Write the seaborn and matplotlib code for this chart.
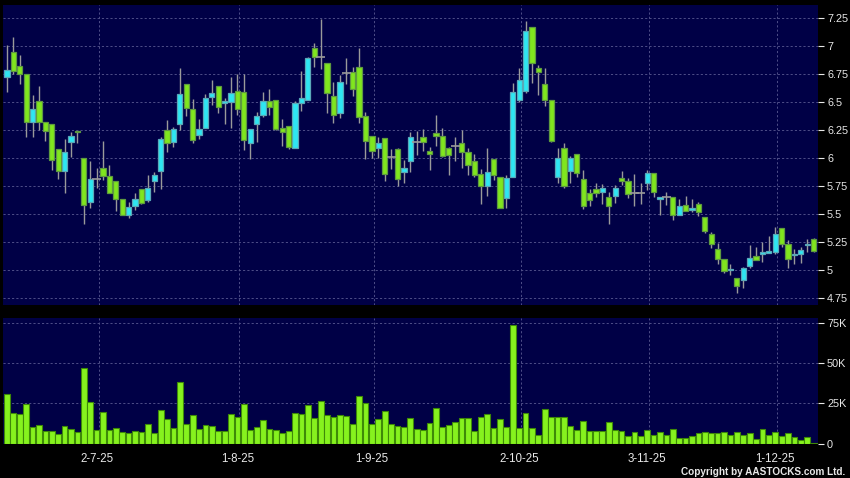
import numpy as np
import pandas as pd
import matplotlib
matplotlib.use("Agg")
import matplotlib.pyplot as plt
import seaborn as sns

# ---------------- data ----------------
opens = [6.722, 6.946, 6.820, 6.749, 6.319, 6.510, 6.319, 6.301, 6.078, 5.881,
         6.140, 6.245, 5.997, 5.609, 5.809, 5.908, 5.842, 5.800, 5.639, 5.496,
         5.573, 5.720, 5.630, 5.797, 5.887, 6.250, 6.140, 6.301, 6.659, 6.436,
         6.203, 6.265, 6.549, 6.647, 6.489, 6.498, 6.600, 6.588, 6.131, 6.301,
         6.385, 6.513, 6.519, 6.265, 6.286, 6.095, 6.489, 6.519, 6.981, 6.907,
         6.847, 6.558, 6.400, 6.761, 6.767, 6.817, 6.379, 6.200, 6.087, 6.176,
         6.012, 6.078, 5.878, 5.976, 6.146, 6.185, 6.066, 6.221, 6.197, 6.087,
         6.110, 6.131, 6.057, 5.976, 5.854, 5.752, 5.988, 5.833, 5.648, 5.827,
         6.519, 6.600, 7.175, 6.803, 6.659, 6.519, 5.827, 6.095, 5.887, 6.033,
         5.809, 5.690, 5.720, 5.699, 5.654, 5.663, 5.818, 5.797, 5.684, 5.684,
         5.779, 5.863, 5.639, 5.654, 5.654, 5.496, 5.585, 5.535, 5.588, 5.475,
         5.326, 5.192, 5.102, 4.998, 4.932, 4.908, 5.034, 5.126, 5.147, 5.153,
         5.162, 5.376, 5.236, 5.132, 5.147, 5.221, 5.275]
highs = [7.011, 7.086, 6.922, 6.749, 6.564, 6.644, 6.319, 6.301, 6.078, 6.167,
         6.230, 6.245, 5.997, 5.973, 5.908, 6.152, 5.937, 5.800, 5.639, 5.609,
         5.690, 5.720, 5.848, 5.878, 6.185, 6.340, 6.280, 6.803, 6.659, 6.528,
         6.349, 6.570, 6.698, 6.647, 6.534, 6.722, 6.752, 6.752, 6.256, 6.415,
         6.588, 6.615, 6.519, 6.349, 6.286, 6.510, 6.782, 6.901, 7.032, 7.244,
         6.847, 6.683, 6.743, 6.892, 6.817, 6.981, 6.415, 6.200, 6.191, 6.176,
         6.078, 6.087, 5.982, 6.236, 6.242, 6.257, 6.101, 6.385, 6.265, 6.101,
         6.191, 6.250, 6.087, 6.036, 5.899, 6.087, 5.988, 5.833, 5.848, 6.668,
         6.803, 7.226, 7.175, 6.832, 6.803, 6.519, 6.087, 6.131, 6.018, 6.033,
         5.893, 5.728, 5.782, 5.773, 5.699, 5.758, 5.884, 5.824, 5.857, 5.779,
         5.893, 5.863, 5.654, 5.693, 5.654, 5.633, 5.660, 5.633, 5.609, 5.475,
         5.341, 5.245, 5.102, 5.057, 4.932, 5.028, 5.227, 5.206, 5.251, 5.302,
         5.385, 5.376, 5.266, 5.192, 5.206, 5.281, 5.287]
lows = [6.594, 6.752, 6.659, 6.191, 6.191, 6.250, 6.155, 5.893, 5.815, 5.690,
        6.012, 6.137, 5.415, 5.558, 5.737, 5.803, 5.684, 5.526, 5.490, 5.466,
        5.535, 5.588, 5.609, 5.699, 5.728, 6.057, 6.101, 6.250, 6.379, 6.137,
        6.167, 6.265, 6.474, 6.400, 6.301, 6.271, 6.385, 6.072, 5.988, 6.146,
        6.364, 6.385, 6.250, 6.110, 6.078, 6.095, 6.424, 6.519, 6.817, 6.797,
        6.400, 6.310, 6.355, 6.659, 6.558, 6.310, 5.988, 5.997, 5.997, 5.794,
        5.899, 5.749, 5.779, 5.878, 6.027, 6.066, 5.893, 6.110, 6.012, 5.848,
        5.976, 5.908, 5.848, 5.833, 5.588, 5.660, 5.803, 5.558, 5.555, 5.827,
        6.504, 6.579, 6.668, 6.564, 6.465, 6.146, 5.779, 5.737, 5.779, 5.833,
        5.544, 5.570, 5.654, 5.594, 5.409, 5.600, 5.758, 5.645, 5.573, 5.594,
        5.714, 5.654, 5.496, 5.579, 5.451, 5.490, 5.529, 5.520, 5.481, 5.335,
        5.198, 5.057, 4.974, 4.953, 4.795, 4.842, 5.019, 5.087, 5.072, 5.153,
        5.147, 5.206, 5.022, 5.057, 5.063, 5.162, 5.162]
closes = [6.788, 6.782, 6.752, 6.319, 6.436, 6.319, 6.242, 5.979, 5.881, 6.051,
          6.197, 6.230, 5.585, 5.809, 5.809, 5.842, 5.690, 5.639, 5.496, 5.564,
          5.639, 5.603, 5.737, 5.848, 6.167, 6.131, 6.256, 6.570, 6.445, 6.161,
          6.256, 6.534, 6.579, 6.453, 6.507, 6.579, 6.436, 6.161, 6.256, 6.379,
          6.513, 6.453, 6.257, 6.230, 6.101, 6.489, 6.534, 6.892, 6.907, 6.907,
          6.579, 6.385, 6.677, 6.761, 6.615, 6.364, 6.152, 6.066, 6.131, 5.854,
          6.012, 5.809, 5.908, 6.191, 6.146, 6.140, 6.033, 6.197, 6.018, 6.027,
          6.110, 6.057, 5.937, 5.848, 5.749, 5.878, 5.848, 5.558, 5.818, 6.594,
          6.698, 7.140, 6.847, 6.767, 6.519, 6.155, 5.997, 5.752, 5.997, 5.863,
          5.573, 5.624, 5.684, 5.737, 5.573, 5.737, 5.797, 5.678, 5.684, 5.684,
          5.863, 5.693, 5.654, 5.654, 5.490, 5.570, 5.529, 5.555, 5.514, 5.350,
          5.236, 5.102, 4.989, 5.013, 4.854, 5.019, 5.108, 5.093, 5.162, 5.171,
          5.320, 5.236, 5.096, 5.147, 5.183, 5.236, 5.168]
volumes_k = [30.6, 18.8, 18.3, 24.8, 10.2, 11.5, 7.7, 7.7, 5.8, 10.6,
             8.8, 7.3, 46.7, 25.6, 8.3, 19.8, 8.5, 9.8, 7.1, 6.3,
             7.7, 7.3, 12.1, 6.5, 20.8, 15.2, 9.6, 38.5, 12.1, 17.5,
             9.0, 11.5, 11.0, 7.7, 7.7, 18.1, 16.5, 24.8, 8.1, 10.2,
             14.6, 9.0, 8.3, 6.5, 7.9, 19.0, 18.1, 24.0, 16.0, 26.7,
             17.5, 16.7, 17.7, 17.1, 11.9, 29.4, 25.2, 12.3, 15.4, 20.2,
             12.3, 11.0, 10.0, 15.6, 9.2, 8.5, 12.7, 22.3, 10.2, 11.5,
             13.5, 16.0, 15.8, 7.9, 16.5, 18.3, 9.4, 15.0, 10.4, 73.7,
             9.4, 19.0, 9.4, 5.2, 21.7, 16.7, 16.7, 16.3, 10.8, 8.3,
             14.0, 7.7, 7.7, 7.7, 13.1, 8.3, 7.7, 4.6, 7.1, 4.6,
             8.3, 5.2, 7.3, 5.2, 8.8, 3.5, 3.5, 4.8, 6.5, 7.1,
             6.3, 6.3, 7.1, 5.4, 7.1, 5.0, 6.7, 2.7, 8.8, 5.0,
             7.1, 4.6, 6.3, 4.2, 2.3, 4.2, 0.6]
date_tick_index = [14, 36, 57, 80, 100, 120]
date_tick_labels = ["2-7-25", "1-8-25", "1-9-25", "2-10-25", "3-11-25", "1-12-25"]
price_ticks = [4.75, 5.0, 5.25, 5.5, 5.75, 6.0, 6.25, 6.5, 6.75, 7.0, 7.25]
price_tick_labels = ["4.75", "5", "5.25", "5.5", "5.75", "6", "6.25", "6.5", "6.75", "7", "7.25"]
volume_ticks_k = [0, 25, 50, 75]
volume_tick_labels = ["0", "25K", "50K", "75K"]

# ---------------- style ----------------
sns.set_style("dark")
plt.rcParams["font.family"] = ["Liberation Sans", "DejaVu Sans"]

BG = "#000046"
GREEN = "#80E61E"
GREEN_EDGE = "#5E9A40"
CYAN = "#2EE6F2"
CYAN_EDGE = "#5AA8B8"
WICK = "#9A9A9A"
GRID = "#4E4E88"
VOL = "#86F21E"
VOL_EDGE = "#3E8A08"
TXT = "#E8E8E8"
GRID_LS = (0, (2.2, 2.2))

df = pd.DataFrame({"open": opens, "high": highs, "low": lows, "close": closes,
                   "vol": np.array(volumes_k) * 1000})
df["idx"] = np.arange(len(df))

fig = plt.figure(figsize=(8.5, 4.78), dpi=100, facecolor="black")
W, H = 850, 478
ax1 = fig.add_axes([3 / W, 1 - 305 / H, 815 / W, 300 / H])
ax2 = fig.add_axes([3 / W, 1 - 443.5 / H, 815 / W, 125.5 / H])

xlim = (-0.62, len(df) - 1 + 0.68)
for ax in (ax1, ax2):
    ax.set_facecolor(BG)
    for s in ax.spines.values():
        s.set_visible(False)
    ax.set_xlim(*xlim)
    ax.grid(False)
    for t in date_tick_index:
        ax.axvline(t + 0.3, color=GRID, lw=0.7, ls=GRID_LS, zorder=0)

# ---------------- candles ----------------
up = df["close"] > df["open"]
down = df["close"] < df["open"]
doji = df["close"] == df["open"]

ax1.vlines(df["idx"], df["low"], df["high"], color=WICK, lw=1.0, zorder=2)
bw = 0.82
ax1.bar(df["idx"][up], (df["close"] - df["open"])[up], bottom=df["open"][up],
        width=bw, color=CYAN, edgecolor=CYAN_EDGE, linewidth=0.9, zorder=3)
ax1.bar(df["idx"][down], (df["open"] - df["close"])[down], bottom=df["close"][down],
        width=bw, color=GREEN, edgecolor=GREEN_EDGE, linewidth=0.9, zorder=3)
ax1.hlines(df["close"][doji], df["idx"][doji] - 0.7, df["idx"][doji] + 0.7,
           color=WICK, lw=1.2, zorder=3)

ax1.set_ylim(4.687, 7.369)
for y in price_ticks:
    ax1.axhline(y, color=GRID, lw=0.7, ls=GRID_LS, zorder=0)
ax1.yaxis.tick_right()
ax1.set_yticks(price_ticks)
ax1.set_yticklabels(price_tick_labels)
ax1.tick_params(axis="y", colors=TXT, labelsize=7.8, length=4, width=0.8, pad=2.5,
                labelcolor=TXT)
ax1.set_xticks([])
ax1.set_xlabel("")
ax1.set_ylabel("")

# ---------------- volume ----------------
sns.barplot(data=df, x="idx", y="vol", native_scale=True, ax=ax2, color=VOL,
            edgecolor=VOL_EDGE, linewidth=0.8, width=0.9, saturation=1, zorder=3)
ax2.set_xlim(*xlim)
ax2.set_ylim(0, 78100)
for v in volume_ticks_k[1:]:
    ax2.axhline(v * 1000, color=GRID, lw=0.7, ls=GRID_LS, zorder=0)
ax2.yaxis.tick_right()
ax2.set_yticks([v * 1000 for v in volume_ticks_k])
ax2.set_yticklabels(volume_tick_labels)
ax2.tick_params(axis="y", colors=TXT, labelsize=7.8, length=4, width=0.8, pad=2.5,
                labelcolor=TXT)
ax2.set_xticks(date_tick_index)
ax2.set_xticklabels(date_tick_labels)
ax2.tick_params(axis="x", colors="#AAAAAA", labelcolor=TXT, labelsize=8.3,
                length=3, width=0.8, pad=4, direction="out")
ax2.set_xlabel("")
ax2.set_ylabel("")

fig.text(845 / W, 1 - 472 / H, "Copyright by AASTOCKS.com Ltd.", ha="right",
         va="center", color=TXT, fontsize=7.2, fontweight="bold")

fig.savefig("out.png", dpi=100, facecolor="black")
